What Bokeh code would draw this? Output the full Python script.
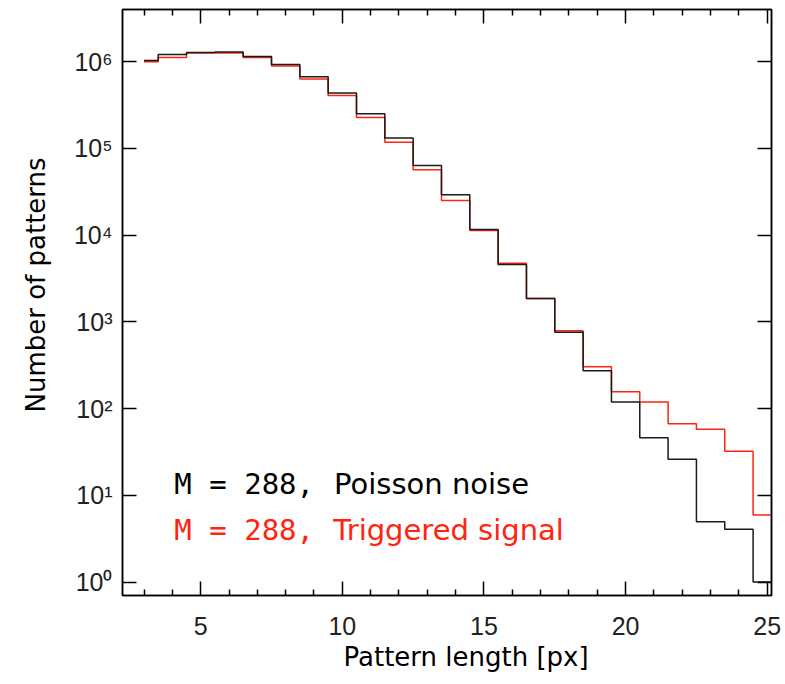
import numpy as np
from bokeh.plotting import figure
from bokeh.models import Range1d, FixedTicker, LinearAxis, LogAxis, Label, Title
from bokeh.embed import file_html
from bokeh.resources import INLINE

# ---- data ----
lengths = [3, 4, 5, 6, 7, 8, 9, 10, 11, 12, 13, 14, 15, 16, 17, 18, 19, 20, 21, 22, 23, 24, 25]
poisson_noise = [1.03e6, 1.21e6, 1.28e6, 1.29e6, 1.15e6, 9.3e5, 6.7e5, 4.35e5, 2.51e5, 1.32e5,
                 6.36e4, 2.92e4, 1.16e4, 4.6e3, 1.86e3, 760, 274, 119, 46, 26, 4.96, 4.06, 1.0]
triggered_signal = [1.0e6, 1.12e6, 1.26e6, 1.26e6, 1.12e6, 8.9e5, 6.3e5, 4.09e5, 2.27e5, 1.18e5,
                    5.67e4, 2.51e4, 1.13e4, 4.75e3, 1.86e3, 790, 303, 157, 119, 67, 58, 32.2, 5.93]
x_major = [5, 10, 15, 20, 25]
x_minor = [3, 4, 6, 7, 8, 9, 11, 12, 13, 14, 16, 17, 18, 19, 21, 22, 23, 24]
y_major = [1, 10, 100, 1000, 10000, 100000, 1000000]
y_labels = ["10⁰", "10¹", "10²", "10³", "10⁴", "10⁵", "10⁶"]

RED = "#ff2410"
BLACK = "#1a1a1a"


def step_path(centers, values):
    c = np.asarray(centers, dtype=float)
    v = np.asarray(values, dtype=float)
    left = c - 0.5
    left[0] = c[0]
    right = c + 0.5
    xs = np.empty(2 * len(c))
    ys = np.empty(2 * len(c))
    xs[0::2] = left
    xs[1::2] = right
    ys[0::2] = v
    ys[1::2] = v
    return xs, ys


p = figure(width=785, height=684,
           x_range=Range1d(2.24, 25.15), y_range=Range1d(0.7, 4e6),
           y_axis_type="log", output_backend="svg", toolbar_location=None,
           min_border_left=121, min_border_right=14, min_border_top=9, min_border_bottom=89)

p.xgrid.visible = False
p.ygrid.visible = False
p.outline_line_color = "black"
p.outline_line_width = 1.5
p.background_fill_color = "white"
p.border_fill_color = "white"

rx, ry = step_path(lengths, triggered_signal)
p.line(rx, ry, line_color=RED, line_width=1.5)
bx, by = step_path(lengths, poisson_noise)
p.line(bx, by, line_color=BLACK, line_width=1.5)

xt = FixedTicker(ticks=x_major, minor_ticks=x_minor)
yt = FixedTicker(ticks=y_major)
overrides = dict(zip(y_major, y_labels))


def style_axis(ax, labels=True):
    ax.axis_line_color = "black"
    ax.axis_line_width = 1.5
    ax.major_tick_line_color = "black"
    ax.major_tick_line_width = 1.5
    ax.major_tick_in = 14
    ax.major_tick_out = 0
    ax.minor_tick_line_color = "black"
    ax.minor_tick_line_width = 1.5
    ax.minor_tick_in = 6
    ax.minor_tick_out = 0
    ax.major_label_text_font = "Liberation Sans"
    ax.major_label_text_font_size = "25px"
    ax.major_label_text_color = "#222222"
    if not labels:
        ax.major_label_text_font_size = "1px"
        ax.major_label_text_color = None
        ax.major_label_standoff = 0


xa = p.xaxis[0]
xa.ticker = xt
style_axis(xa)
xa.major_label_standoff = 21

ya = p.yaxis[0]
ya.ticker = yt
ya.major_label_overrides = overrides
style_axis(ya)
ya.minor_tick_line_color = None
ya.major_label_standoff = 10

top = LinearAxis(ticker=FixedTicker(ticks=x_major, minor_ticks=x_minor))
style_axis(top, labels=False)
p.add_layout(top, "above")

right = LogAxis(ticker=FixedTicker(ticks=y_major))
style_axis(right, labels=False)
right.minor_tick_line_color = None
p.add_layout(right, "right")

# axis titles, placed off-centre as in the original
p.add_layout(Title(text="Pattern length [px]", align="left", offset=221, vertical_align="top",
                   standoff=8, text_font="DejaVu Sans", text_font_size="26px",
                   text_font_style="normal", text_color="black"), "below")
p.add_layout(Title(text="Number of patterns", align="left", offset=183, vertical_align="middle",
                   standoff=38, text_font="DejaVu Sans", text_font_size="26px",
                   text_font_style="normal", text_color="black"), "left")

# annotation text
p.add_layout(Label(x=4.07, y=13.4, text="M = 288,", text_font="DejaVu Sans Mono", text_font_size="29px",
                   text_color="black", text_baseline="alphabetic"))
p.add_layout(Label(x=9.71, y=13.4, text="Poisson noise", text_font="DejaVu Sans", text_font_size="29px",
                   text_color="black", text_baseline="alphabetic"))
p.add_layout(Label(x=4.07, y=3.96, text="M = 288,", text_font="DejaVu Sans Mono", text_font_size="29px",
                   text_color=RED, text_baseline="alphabetic"))
p.add_layout(Label(x=9.68, y=3.96, text="Triggered signal", text_font="DejaVu Sans", text_font_size="29px",
                   text_color=RED, text_baseline="alphabetic"))

open("out.html", "w").write(file_html(p, INLINE))
